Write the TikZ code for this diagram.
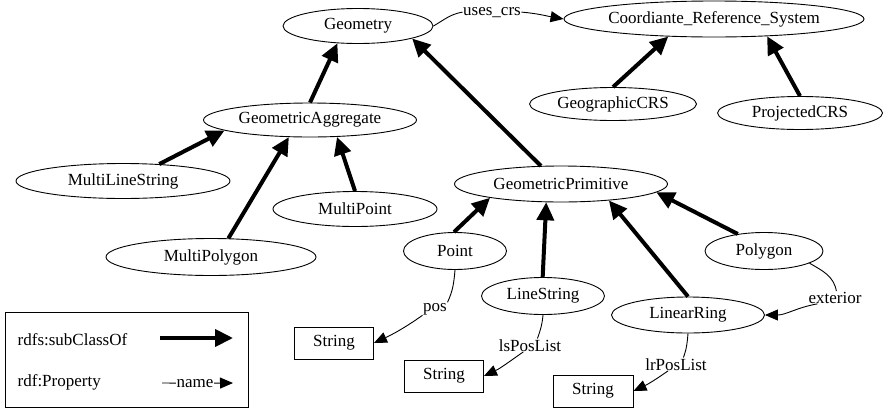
\documentclass[tikz,border=0pt]{standalone}
\usepackage{fontspec}
\setmainfont{Liberation Serif}
\usetikzlibrary{shapes.geometric,arrows.meta}
\begin{document}
\begin{tikzpicture}[x=1pt,y=-1pt,
  every node/.style={font=\fontsize{17}{20}\selectfont},
  cls/.style={draw, ellipse, line width=0.9pt, inner sep=0pt, minimum height=35pt},
  strbox/.style={draw, rectangle, line width=0.9pt, inner sep=0pt, minimum width=79pt, minimum height=32pt},
  lbl/.style={inner sep=0.5pt},
  sub/.style={line width=4pt, -{Triangle[length=18pt,width=17pt]}},
  prop/.style={line width=0.9pt, -{Triangle[length=13pt,width=11pt]}},
  prop0/.style={line width=0.9pt}]
\useasboundingbox (0,0) rectangle (885,410);

% classes
\node[cls, minimum width=150pt] (geom) at (358,26) {Geometry};
\node[cls, minimum width=300pt, minimum height=36pt] (crs) at (714,19) {Coordiante\_Reference\_System};
\node[cls, minimum width=167pt, minimum height=33pt] (geocrs) at (613,104) {GeographicCRS};
\node[cls, minimum width=165pt, minimum height=33pt] (projcrs) at (800,113) {ProjectedCRS};
\node[cls, minimum width=213pt, minimum height=34pt] (gagg) at (310,120) {GeometricAggregate};
\node[cls, minimum width=213pt, minimum height=36pt] (gprim) at (561,184) {GeometricPrimitive};
\node[cls, minimum width=214pt] (mls) at (123,181) {MultiLineString};
\node[cls, minimum width=164pt] (mpoint) at (355,209) {MultiPoint};
\node[cls, minimum width=210pt, minimum height=37pt] (mpoly) at (211,257) {MultiPolygon};
\node[cls, minimum width=103pt, minimum height=37pt] (point) at (455,251) {Point};
\node[cls, minimum width=123pt, minimum height=37pt] (linestring) at (543,296) {LineString};
\node[cls, minimum width=153pt, minimum height=36pt] (linearring) at (688,315) {LinearRing};
\node[cls, minimum width=118pt, minimum height=37pt] (polygon) at (764,251) {Polygon};

% literals
\node[strbox] (str1) at (334,343) {String};
\node[strbox] (str2) at (444,376) {String};
\node[strbox, minimum width=80pt] (str3) at (593,391) {String};

% subClassOf edges
\draw[sub] (gagg.90) -- (geom.220);
\draw[sub] (mls.25) -- (gagg.187);
\draw[sub] (mpoint.90) -- (gagg.328);
\draw[sub] (mpoly.47) -- (gagg.219);
\draw[sub] (gprim.138) -- (geom.347);
\draw[sub] (geocrs.90) -- (crs.201);
\draw[sub] (projcrs.90) -- (crs.342);
\draw[sub] (point.93) -- (gprim.191);
\draw[sub] (linestring.91) -- (gprim.231);
\draw[sub] (linearring.90) -- (gprim.341);
\draw[sub] (polygon.147) -- (gprim.355);

% property labels
\node[lbl, anchor=base] (ucrs) at (492,15) {uses\_crs};
\node[lbl, anchor=base] (pos) at (435,311) {pos};
\node[lbl, anchor=base] (lspl) at (530,351) {lsPosList};
\node[lbl, anchor=base] (lrpl) at (676,370) {lrPosList};
\node[lbl, anchor=base] (ext) at (835,303) {exterior};

% property edges
\draw[prop0] (geom.east) to[out=30,in=190] (ucrs.west);
\draw[prop] (ucrs.east) to[out=-5,in=170] (crs.west);
\draw[prop0] (point.south) to[out=-95,in=65] (pos.north east);
\draw[prop] (pos.south west) to[out=-145,in=25] (str1.east);
\draw[prop0] (linestring.south) to[out=-95,in=70] (lspl.42);
\draw[prop] (lspl.225) to[out=-145,in=25] (str2.east);
\draw[prop0] (linearring.south) to[out=-95,in=70] (lrpl.42);
\draw[prop] (lrpl.220) to[out=-145,in=25] (str3.east);
\draw[prop0] (polygon.345) to[out=-30,in=100] (ext.78);
\draw[prop] (ext.200) to[out=190,in=0] (linearring.east);

% legend
\node[draw, rectangle, line width=0.9pt, minimum width=243pt, minimum height=95pt, inner sep=0pt] (legend) at (126.5,359.5) {};
\node[lbl, anchor=base west] (lgsub) at (17,345) {rdfs:subClassOf};
\node[lbl, anchor=base west] (lgprop) at (17,386) {rdf:Property};
\coordinate (lgsA) at (160,338);
\coordinate (lgsB) at (233,338);
\draw[sub] (lgsA) -- (lgsB);
\node[lbl, anchor=base] (lgname) at (195,387) {name};
\coordinate (lgpA) at (162,383);
\coordinate (lgpB) at (233,383);
\draw[prop0] (lgpA) -- (lgname.west);
\draw[prop] (lgname.east) -- (lgpB);
\end{tikzpicture}
\end{document}
